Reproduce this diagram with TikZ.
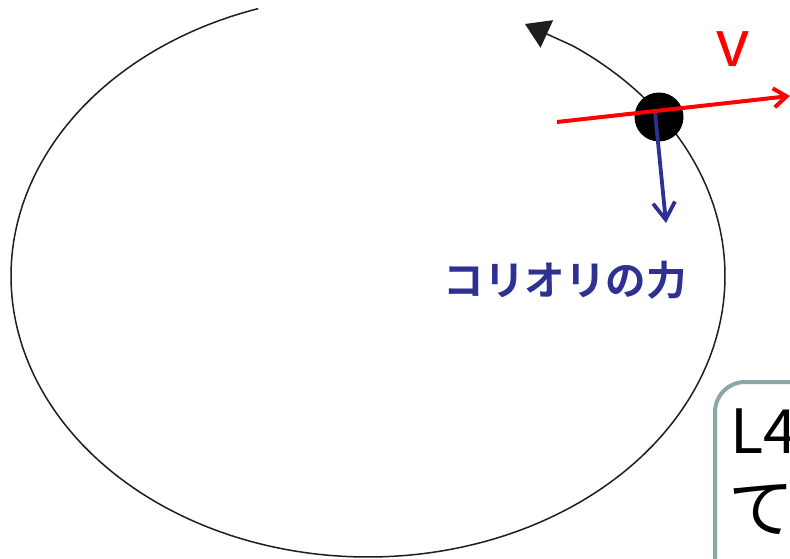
\documentclass[tikz,border=0pt]{standalone}
\usepackage{fontspec}
\setmainfont{Liberation Sans}
\newfontfamily\jp{Noto Sans CJK JP}
\newfontfamily\jpb{Noto Sans CJK JP Bold}
\usetikzlibrary{arrows.meta}
\definecolor{cblue}{RGB}{46,49,146}
\definecolor{boxc}{RGB}{138,166,166}
\definecolor{orbitc}{RGB}{30,30,30}
\tikzset{
  orbit/.style={draw=orbitc, line width=1.5pt, -{Triangle[length=24pt,width=30pt]}},
  ball/.style={circle, fill=black, minimum size=49pt, inner sep=0pt},
  velarrow/.style={draw=red, line width=4pt, -{Straight Barb[length=13pt,width=19pt]}},
  forcearrow/.style={draw=cblue, line width=3.8pt, -{Straight Barb[length=17pt,width=22pt]}},
  notebox/.style={draw=boxc, line width=4pt, fill=white, rounded corners=30pt, anchor=north west, minimum width=200pt, minimum height=300pt, inner sep=0pt}
}
\begin{document}
\begin{tikzpicture}[x=1pt,y=-1pt]
\useasboundingbox (0,0) rectangle (790,559);
\clip (0,0) rectangle (790,559);
\fill[white] (0,0) rectangle (790,559);
% orbit
\coordinate (otip) at (525,24);
\draw[orbit] plot[domain=107.9:415, samples=240, smooth] ({368+357*cos(\x)},{276-281*sin(\x)}) -- (otip);
% ball
\node[ball] (ballnode) at (659,117) {};
% force arrow
\coordinate (fstart) at (655,112);
\coordinate (fend) at (666,223);
\draw[forcearrow] (fstart) -- (fend);
% velocity arrow
\coordinate (vstart) at (557,122);
\coordinate (vend) at (790,96);
\draw[velarrow] (vstart) -- (vend);
\node[anchor=base west, inner sep=0pt, text=red, font=\fontsize{66}{66}\selectfont] (vlabel) at (716,67) {v};
\node[inner sep=0pt, text=cblue, font=\jpb\fontsize{40.5}{40.5}\selectfont] (flabel) at (565,280) {コリオリの力};
% note box
\node[notebox] (box) at (713,380) {};
\node[anchor=base west, inner sep=0pt, font=\jp\fontsize{61}{61}\selectfont] (line1) at (730,453) {L4};
\node[anchor=base west, inner sep=0pt, font=\jp\fontsize{66}{66}\selectfont] (line2) at (728,532) {て};
\end{tikzpicture}
\end{document}
